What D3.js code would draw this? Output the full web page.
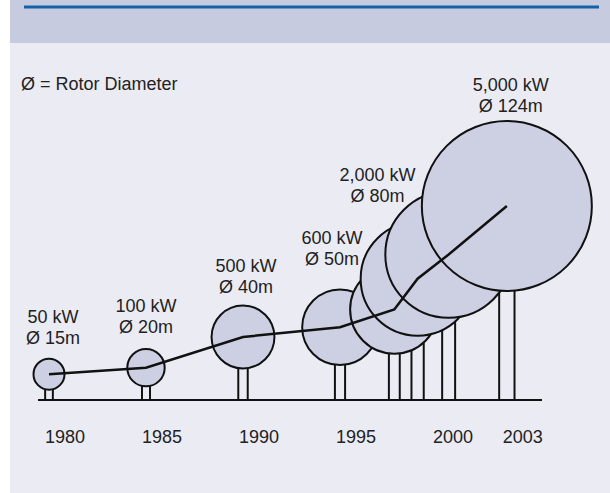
<!DOCTYPE html>
<html>
<head>
<meta charset="utf-8">
<script src="https://cdn.jsdelivr.net/npm/d3@7"></script>
<style>
  body { margin: 0; background: #fff; }
  text { font-family: "Liberation Sans", Arial, sans-serif; fill: #222; }
</style>
</head>
<body>
<svg></svg>
<script>
// turbine data
var years = [1980, 1985, 1990, 1995, 1997.8, 1999.0, 2000.6, 2003.6];
var diameters = [15, 20, 40, 50, 60, 80, 90, 124];     // rotor diameter, m
var hubHeights = [16, 20, 39, 45, 56, 75, 90, 120];    // m
var powerLabels = ["50 kW", "100 kW", "500 kW", "600 kW", "", "2,000 kW", "", "5,000 kW"];
var diamLabels = ["Ø 15m", "Ø 20m", "Ø 40m", "Ø 50m", "", "Ø 80m", "", "Ø 124m"];
var tickYears = [1980, 1985, 1990, 1995, 2000, 2003.6];
var tickLabels = ["1980", "1985", "1990", "1995", "2000", "2003"];

// label nudges (px) for the annotated turbines
var labelDx = [4, 0, 3, -8, 0, -40, 0, 4];
var labelGap = [15, 16, 13, 24, 0, 20, 0, 9];

var svgWidth = 610;
var svgHeight = 493;
var baseY = 400;
var fontSize = 18;

var svg = d3.select('svg').attr("width", svgWidth).attr("height", svgHeight);

// background panel + header band
svg.append("rect").attr("x", 10).attr("y", 0).attr("width", 600).attr("height", 493).attr("fill", "#ebebf4");
svg.append("rect").attr("x", 10).attr("y", 0).attr("width", 600).attr("height", 43).attr("fill", "#c6cbe0");
svg.append("line").attr("x1", 24).attr("x2", 599).attr("y1", 7).attr("y2", 7)
    .attr("stroke", "#1560a6").attr("stroke-width", 3);

var x = d3.scaleLinear().domain([1980, 1995]).range([49, 340]);
var y = d3.scaleLinear().domain([0, 120]).range([baseY, 206]);
var r = d3.scaleLinear().domain([15, 124]).range([15.5, 85]);

var data = years.map(function (d, i) {
    return { year: d, diam: diameters[i], hub: hubHeights[i], power: powerLabels[i], dl: diamLabels[i], i: i };
});

svg.append("text").attr("x", 21).attr("y", 90).attr("font-size", fontSize).text("Ø = Rotor Diameter");

// towers (two legs each), drawn under the rotors
data.forEach(function (d) {
    var gap = 6 + r(d.diam) * 0.11;
    [-gap / 2, gap / 2].forEach(function (o) {
        svg.append("line")
            .attr("x1", x(d.year) + o).attr("x2", x(d.year) + o)
            .attr("y1", y(d.hub)).attr("y2", baseY)
            .attr("stroke", "#111").attr("stroke-width", 2);
    });
});

// ground line
svg.append("line").attr("x1", 38).attr("x2", 542).attr("y1", baseY).attr("y2", baseY)
    .attr("stroke", "#111").attr("stroke-width", 2);

svg.selectAll("circle.rotor")
    .data(data)
    .enter()
    .append("circle")
    .attr("class", "rotor")
    .attr("cx", function (d) { return x(d.year); })
    .attr("cy", function (d) { return y(d.hub); })
    .attr("r", function (d) { return r(d.diam); })
    .attr("fill", "#cdd0e2")
    .attr("stroke", "#111")
    .attr("stroke-width", 2);

var line = d3.line()
    .x(function (d) { return x(d.year); })
    .y(function (d) { return y(d.hub); });

svg.append("path").datum(data).attr("d", line)
    .attr("fill", "none").attr("stroke", "#111").attr("stroke-width", 2.5);

// power / diameter labels
var labelled = data.filter(function (d) { return d.power !== ""; });
labelled.forEach(function (d) {
    var lx = x(d.year) + labelDx[d.i];
    var ly = y(d.hub) - r(d.diam) - labelGap[d.i];
    svg.append("text").attr("x", lx).attr("y", ly - 21).attr("text-anchor", "middle")
        .attr("font-size", fontSize).text(d.power);
    svg.append("text").attr("x", lx).attr("y", ly).attr("text-anchor", "middle")
        .attr("font-size", fontSize).text(d.dl);
});

// year labels
svg.selectAll("text.year")
    .data(tickYears)
    .enter()
    .append("text")
    .attr("class", "year")
    .attr("x", function (d) { return x(d) + 16; })
    .attr("y", 443)
    .attr("text-anchor", "middle")
    .attr("font-size", fontSize)
    .text(function (d, i) { return tickLabels[i]; });
</script>
</body>
</html>
